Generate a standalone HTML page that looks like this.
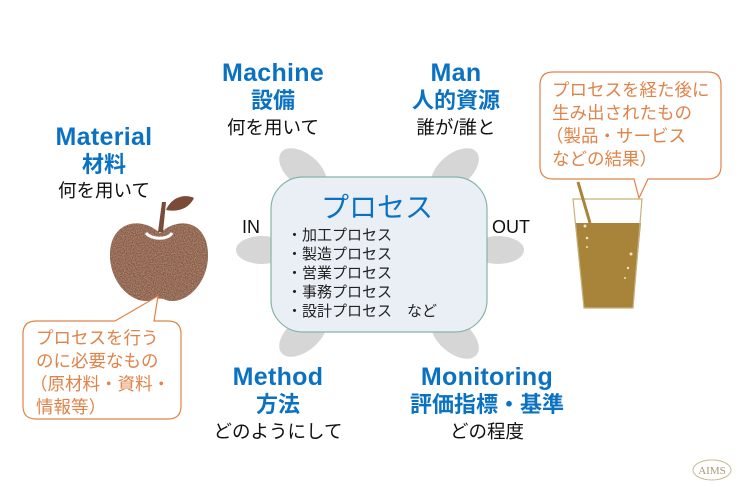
<!DOCTYPE html>
<html><head><meta charset="utf-8"><style>
body{margin:0;background:#fff;}
svg{display:block;font-family:"Liberation Sans","Noto Sans CJK JP",sans-serif;}
.b{fill:#0b72c2;font-weight:bold;font-size:22px;text-anchor:middle}
.l{font-size:25px;letter-spacing:0.3px}
.k{fill:#111;font-size:18.5px;text-anchor:middle}
.o{fill:#e0834a;font-size:17.5px}
</style></head><body>
<svg width="744" height="493" viewBox="0 0 744 493">
<defs>
<filter id="sp"><feTurbulence type="fractalNoise" baseFrequency="0.9" numOctaves="2" seed="3"/><feColorMatrix type="matrix" values="0 0 0 0 0.45 0 0 0 0 0.28 0 0 0 0 0.2 0 0 0 -1.6 1.3"/><feComposite in2="SourceGraphic" operator="in"/></filter>
</defs>
<g fill="#d6d6d6">
<ellipse cx="303" cy="170" rx="28" ry="16" transform="rotate(40 303 170)"/>
<ellipse cx="455" cy="170" rx="28" ry="16" transform="rotate(-40 455 170)"/>
<ellipse cx="262" cy="250" rx="26" ry="14"/>
<ellipse cx="498" cy="250" rx="26" ry="14"/>
<ellipse cx="303" cy="335" rx="28" ry="16" transform="rotate(-40 303 335)"/>
<ellipse cx="455" cy="337" rx="28" ry="16" transform="rotate(40 455 337)"/>
</g>
<rect x="271" y="177" width="216" height="155" rx="32" fill="#eaeff6" stroke="#86b3a6" stroke-width="1.2"/>
<text x="377" y="217" fill="#0b72c2" font-size="28" text-anchor="middle">プロセス</text>
<g font-size="15" fill="#222">
<text x="287" y="240">・加工プロセス</text>
<text x="287" y="259">・製造プロセス</text>
<text x="287" y="278">・営業プロセス</text>
<text x="287" y="297">・事務プロセス</text>
<text x="287" y="316">・設計プロセス　など</text>
</g>
<text x="251" y="233" font-size="18" fill="#111" text-anchor="middle">IN</text>
<text x="511" y="233" font-size="18" fill="#111" text-anchor="middle">OUT</text>

<text class="b l" x="273" y="81">Machine</text>
<text class="b" x="273" y="108">設備</text>
<text class="k" x="273" y="134">何を用いて</text>
<text class="b l" x="456" y="81">Man</text>
<text class="b" x="456" y="108">人的資源</text>
<text class="k" x="456" y="134">誰が/誰と</text>
<text class="b l" x="104" y="145">Material</text>
<text class="b" x="104" y="172">材料</text>
<text class="k" x="104" y="197">何を用いて</text>
<text class="b l" x="278" y="385">Method</text>
<text class="b" x="278" y="412">方法</text>
<text class="k" x="278" y="438">どのようにして</text>
<text class="b l" x="487" y="385">Monitoring</text>
<text class="b" x="487" y="412">評価指標・基準</text>
<text class="k" x="487" y="438">どの程度</text>

<g>
<path d="M160 233 C140 215 110 222 110 255 C110 285 135 306 152 300 C158 298 162 298 166 300 C184 306 208 285 208 255 C208 222 180 215 160 233 Z" fill="#7a4b36"/>
<path d="M160 233 C140 215 110 222 110 255 C110 285 135 306 152 300 C158 298 162 298 166 300 C184 306 208 285 208 255 C208 222 180 215 160 233 Z" fill="#7a4b36" filter="url(#sp)"/>
<path d="M158 232 L162 202 L166 202 L163 232 Z" fill="#7a4b36"/>
<path d="M166 210 C172 196 186 194 194 198 C188 210 176 212 166 210 Z" fill="#7a4b36"/>
<path d="M146 233 C152 240 168 240 172 233" stroke="#fff" stroke-width="3" fill="none"/>
</g>
<path d="M36 321 H115 L158 296 L154 321 H168 Q181 321 181 334 V406 Q181 419 168 419 H36 Q23 419 23 406 V334 Q23 321 36 321 Z" fill="#fff" stroke="#e0834a" stroke-width="1.2"/>
<text class="o" x="36" y="344">プロセスを行う</text>
<text class="o" x="36" y="367">のに必要なもの</text>
<text class="o" x="30" y="390">（原材料・資料・</text>
<text class="o" x="36" y="413">情報等）</text>

<path d="M553 72 H708 Q721 72 721 85 V166 Q721 179 708 179 H648 L639 198 L634 179 H553 Q540 179 540 166 V85 Q540 72 553 72 Z" fill="#fff" stroke="#e0834a" stroke-width="1.2"/>
<text class="o" x="552" y="96">プロセスを経た後に</text>
<text class="o" x="552" y="119">生み出されたもの</text>
<text class="o" x="546" y="142">（製品・サービス</text>
<text class="o" x="552" y="165">などの結果）</text>

<path d="M575 223 L641 223 L633 308 L584 308 Z" fill="#a8843a"/>
<path d="M573 199 L642 199 L633 308 L584 308 Z" fill="none" stroke="#c9b07a" stroke-width="1.2"/>
<line x1="578" y1="182" x2="590" y2="223" stroke="#a8843a" stroke-width="3"/>
<g fill="#f0e2c4"><circle cx="585" cy="226" r="1.5"/><circle cx="587" cy="238" r="1.3"/><circle cx="587" cy="247" r="1"/><circle cx="631" cy="254" r="1.5"/><circle cx="628" cy="268" r="1.2"/><circle cx="625" cy="278" r="1"/></g>

<ellipse cx="712" cy="470" rx="19" ry="10" fill="none" stroke="#c8b896" stroke-width="1"/>
<text x="712" y="474" font-family="Liberation Serif,serif" font-size="11" fill="#a8987a" text-anchor="middle">AIMS</text>
</svg>
</body></html>
